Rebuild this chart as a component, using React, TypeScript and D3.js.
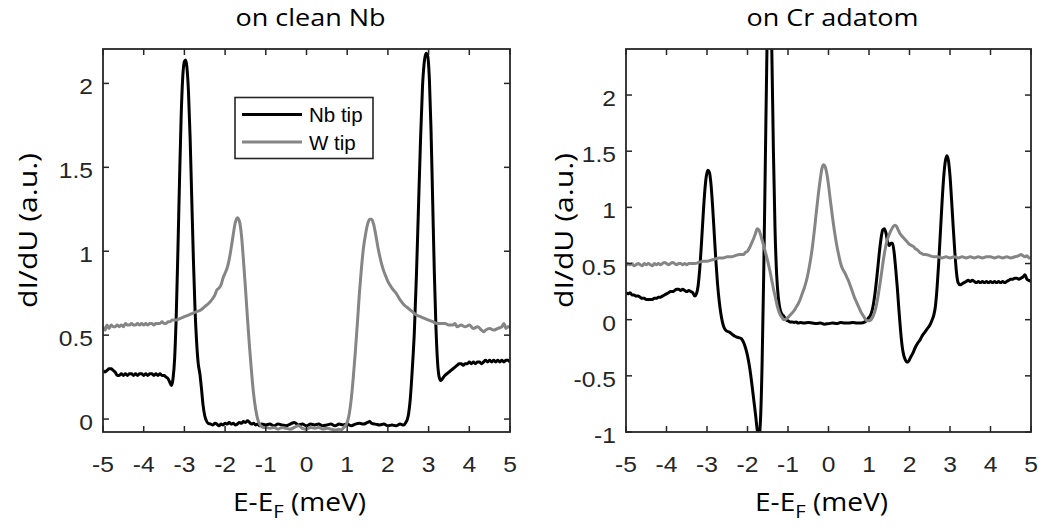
import React from "react";
import * as d3 from "d3";

// ---------------- DATA ----------------
const xTicks = [-5, -4, -3, -2, -1, 0, 1, 2, 3, 4, 5];
const leftYTicks = [0, 0.5, 1, 1.5, 2];
const rightYTicks = [-1, -0.5, 0, 0.5, 1, 1.5, 2];
const titles = ["on clean Nb", "on Cr adatom"];
const legendLabels = ["Nb tip", "W tip"];

// Left panel: Nb tip on clean Nb
const cleanNbTip: [number, number][] = [
  [-5, 0.29], [-4.95, 0.28], [-4.9, 0.29], [-4.85, 0.3], [-4.8, 0.3], [-4.75, 0.29], [-4.7, 0.28], [-4.65, 0.26],
  [-4.6, 0.26], [-4.55, 0.27], [-4.5, 0.26], [-4.45, 0.27], [-4.4, 0.26], [-4.35, 0.27], [-4.3, 0.27], [-4.25, 0.26],
  [-4.2, 0.27], [-4.15, 0.26], [-4.1, 0.27], [-4.05, 0.27], [-4.0, 0.26], [-3.95, 0.27], [-3.9, 0.26], [-3.85, 0.27],
  [-3.8, 0.27], [-3.75, 0.26], [-3.7, 0.27], [-3.65, 0.26], [-3.6, 0.27], [-3.55, 0.26], [-3.5, 0.26], [-3.45, 0.25],
  [-3.4, 0.24], [-3.36, 0.22], [-3.32, 0.2], [-3.28, 0.24], [-3.24, 0.36], [-3.2, 0.62], [-3.16, 1.0], [-3.12, 1.42],
  [-3.08, 1.8], [-3.04, 2.04], [-3.0, 2.13], [-2.97, 2.14], [-2.94, 2.1], [-2.9, 1.95], [-2.86, 1.68], [-2.82, 1.32],
  [-2.78, 0.96], [-2.74, 0.66], [-2.7, 0.46], [-2.66, 0.33], [-2.62, 0.27], [-2.58, 0.18], [-2.54, 0.08], [-2.5, 0.02],
  [-2.46, -0.01], [-2.42, -0.025], [-2.35, -0.03], [-2.3, -0.035], [-2.25, -0.025], [-2.2, -0.03], [-2.15, -0.04],
  [-2.1, -0.03], [-2.05, -0.035], [-2.0, -0.025], [-1.95, -0.03], [-1.9, -0.02], [-1.85, -0.03], [-1.8, -0.025],
  [-1.75, -0.035], [-1.7, -0.03], [-1.65, -0.02], [-1.6, -0.025], [-1.55, -0.015], [-1.5, -0.02], [-1.45, -0.01],
  [-1.4, -0.02], [-1.35, -0.03], [-1.3, -0.025], [-1.25, -0.035], [-1.2, -0.03], [-1.15, -0.04], [-1.1, -0.03],
  [-1.0, -0.035], [-0.9, -0.03], [-0.8, -0.04], [-0.7, -0.03], [-0.6, -0.035], [-0.5, -0.04], [-0.4, -0.03],
  [-0.3, -0.02], [-0.2, -0.035], [-0.1, -0.03], [0.0, -0.04], [0.1, -0.03], [0.2, -0.035], [0.3, -0.03],
  [0.4, -0.04], [0.5, -0.035], [0.6, -0.03], [0.7, -0.04], [0.8, -0.03], [0.9, -0.035], [1.0, -0.03], [1.1, -0.04],
  [1.2, -0.03], [1.3, -0.025], [1.4, -0.03], [1.5, -0.02], [1.55, -0.015], [1.6, -0.025], [1.7, -0.03],
  [1.8, -0.035], [1.9, -0.03], [2.0, -0.04], [2.1, -0.035], [2.2, -0.04], [2.3, -0.03], [2.38, -0.035],
  [2.44, -0.02], [2.5, 0.02], [2.55, 0.12], [2.6, 0.3], [2.65, 0.52], [2.7, 0.85], [2.75, 1.25], [2.8, 1.65],
  [2.85, 1.98], [2.9, 2.14], [2.94, 2.18], [2.98, 2.16], [3.02, 2.02], [3.06, 1.72], [3.1, 1.3], [3.14, 0.88],
  [3.18, 0.55], [3.22, 0.34], [3.26, 0.25], [3.3, 0.23], [3.34, 0.24], [3.4, 0.26], [3.45, 0.27], [3.5, 0.28],
  [3.55, 0.29], [3.6, 0.3], [3.65, 0.31], [3.7, 0.32], [3.75, 0.33], [3.8, 0.33], [3.85, 0.32], [3.9, 0.33],
  [3.95, 0.33], [4.0, 0.34], [4.05, 0.33], [4.1, 0.34], [4.15, 0.33], [4.2, 0.34], [4.25, 0.34], [4.3, 0.33],
  [4.35, 0.34], [4.4, 0.35], [4.45, 0.34], [4.5, 0.35], [4.55, 0.34], [4.6, 0.35], [4.65, 0.34], [4.7, 0.35],
  [4.75, 0.34], [4.8, 0.35], [4.85, 0.34], [4.9, 0.35], [4.95, 0.35], [5.0, 0.34],
];

// Left panel: W tip on clean Nb
const cleanWTip: [number, number][] = [
  [-5, 0.55], [-4.95, 0.53], [-4.9, 0.56], [-4.85, 0.54], [-4.8, 0.56], [-4.75, 0.55], [-4.7, 0.55], [-4.65, 0.56],
  [-4.6, 0.55], [-4.55, 0.56], [-4.5, 0.55], [-4.45, 0.57], [-4.4, 0.56], [-4.35, 0.56], [-4.3, 0.57], [-4.25, 0.56],
  [-4.2, 0.56], [-4.15, 0.57], [-4.1, 0.56], [-4.05, 0.57], [-4.0, 0.56], [-3.95, 0.57], [-3.9, 0.56], [-3.85, 0.57],
  [-3.8, 0.57], [-3.75, 0.56], [-3.7, 0.57], [-3.65, 0.57], [-3.6, 0.57], [-3.55, 0.58], [-3.5, 0.57], [-3.45, 0.57],
  [-3.4, 0.58], [-3.35, 0.58], [-3.3, 0.59], [-3.2, 0.59], [-3.1, 0.6], [-3.0, 0.61], [-2.9, 0.62], [-2.8, 0.63],
  [-2.7, 0.64], [-2.6, 0.65], [-2.5, 0.67], [-2.4, 0.69], [-2.3, 0.72], [-2.25, 0.74], [-2.2, 0.77], [-2.15, 0.78],
  [-2.1, 0.8], [-2.05, 0.84], [-2.0, 0.87], [-1.95, 0.9], [-1.9, 0.95], [-1.85, 1.02], [-1.8, 1.1], [-1.75, 1.17],
  [-1.7, 1.2], [-1.65, 1.18], [-1.6, 1.1], [-1.55, 0.95], [-1.5, 0.78], [-1.45, 0.6], [-1.4, 0.43], [-1.35, 0.28],
  [-1.3, 0.15], [-1.25, 0.06], [-1.2, 0.0], [-1.15, -0.03], [-1.1, -0.045], [-1.05, -0.05], [-1.0, -0.05],
  [-0.9, -0.055], [-0.8, -0.05], [-0.7, -0.06], [-0.6, -0.05], [-0.5, -0.055], [-0.4, -0.06], [-0.3, -0.05],
  [-0.2, -0.04], [-0.1, -0.055], [0.0, -0.06], [0.1, -0.05], [0.2, -0.055], [0.3, -0.05], [0.4, -0.06],
  [0.5, -0.055], [0.6, -0.06], [0.7, -0.065], [0.8, -0.06], [0.85, -0.065], [0.9, -0.055], [0.95, -0.04],
  [1.0, -0.02], [1.05, 0.03], [1.1, 0.12], [1.15, 0.25], [1.2, 0.4], [1.25, 0.57], [1.3, 0.75], [1.35, 0.9],
  [1.4, 1.02], [1.45, 1.1], [1.5, 1.16], [1.55, 1.19], [1.6, 1.19], [1.65, 1.16], [1.7, 1.1], [1.75, 1.03],
  [1.8, 0.97], [1.85, 0.92], [1.9, 0.88], [1.95, 0.85], [2.0, 0.82], [2.1, 0.78], [2.2, 0.75], [2.3, 0.71],
  [2.4, 0.68], [2.5, 0.66], [2.6, 0.64], [2.7, 0.62], [2.8, 0.61], [2.9, 0.6], [3.0, 0.59], [3.1, 0.58],
  [3.2, 0.57], [3.3, 0.57], [3.4, 0.57], [3.5, 0.56], [3.6, 0.56], [3.65, 0.57], [3.7, 0.55], [3.8, 0.56],
  [3.9, 0.55], [4.0, 0.56], [4.1, 0.54], [4.2, 0.55], [4.3, 0.53], [4.35, 0.52], [4.4, 0.53], [4.5, 0.54],
  [4.6, 0.53], [4.7, 0.54], [4.8, 0.55], [4.85, 0.57], [4.9, 0.54], [4.95, 0.55], [5.0, 0.55],
];

// Right panel: Nb tip on Cr adatom
const crNbTip: [number, number][] = [
  [-5, 0.24], [-4.95, 0.23], [-4.9, 0.24], [-4.85, 0.22], [-4.8, 0.22], [-4.75, 0.21], [-4.7, 0.21], [-4.65, 0.2],
  [-4.6, 0.19], [-4.55, 0.19], [-4.5, 0.18], [-4.45, 0.18], [-4.4, 0.18], [-4.35, 0.18], [-4.3, 0.19], [-4.25, 0.19],
  [-4.2, 0.2], [-4.15, 0.2], [-4.1, 0.21], [-4.05, 0.22], [-4.0, 0.23], [-3.95, 0.24], [-3.9, 0.25], [-3.85, 0.25],
  [-3.8, 0.26], [-3.75, 0.27], [-3.7, 0.27], [-3.65, 0.26], [-3.6, 0.27], [-3.55, 0.26], [-3.5, 0.25], [-3.45, 0.26],
  [-3.4, 0.25], [-3.35, 0.24], [-3.3, 0.21], [-3.26, 0.23], [-3.22, 0.3], [-3.18, 0.45], [-3.14, 0.66], [-3.1, 0.9],
  [-3.06, 1.12], [-3.02, 1.27], [-2.98, 1.33], [-2.94, 1.31], [-2.9, 1.2], [-2.86, 1.0], [-2.82, 0.76], [-2.78, 0.52],
  [-2.74, 0.32], [-2.7, 0.17], [-2.66, 0.06], [-2.62, -0.02], [-2.58, -0.07], [-2.52, -0.1], [-2.45, -0.11],
  [-2.38, -0.13], [-2.3, -0.15], [-2.22, -0.16], [-2.15, -0.17], [-2.1, -0.2], [-2.05, -0.25], [-2.0, -0.32],
  [-1.95, -0.42], [-1.9, -0.55], [-1.85, -0.7], [-1.8, -0.85], [-1.76, -0.98], [-1.72, -1.05], [-1.68, -0.9],
  [-1.64, -0.4], [-1.6, 0.4], [-1.56, 1.4], [-1.52, 2.4], [-1.48, 3.0], [-1.44, 3.0], [-1.4, 2.4], [-1.36, 1.5],
  [-1.32, 0.8], [-1.28, 0.4], [-1.24, 0.2], [-1.2, 0.1], [-1.15, 0.05], [-1.1, 0.03], [-1.05, 0.0], [-1.0, -0.01],
  [-0.95, -0.02], [-0.9, -0.02], [-0.85, -0.025], [-0.8, -0.02], [-0.75, -0.03], [-0.7, -0.025], [-0.6, -0.03],
  [-0.5, -0.025], [-0.4, -0.03], [-0.3, -0.035], [-0.2, -0.03], [-0.1, -0.04], [0.0, -0.035], [0.1, -0.03],
  [0.2, -0.035], [0.3, -0.025], [0.4, -0.03], [0.5, -0.03], [0.6, -0.025], [0.7, -0.03], [0.8, -0.03],
  [0.9, -0.02], [0.95, 0.0], [1.0, 0.02], [1.05, 0.05], [1.1, 0.12], [1.15, 0.24], [1.2, 0.4], [1.25, 0.58],
  [1.3, 0.73], [1.34, 0.8], [1.38, 0.81], [1.42, 0.77], [1.46, 0.69], [1.5, 0.66], [1.54, 0.68], [1.58, 0.68],
  [1.62, 0.6], [1.66, 0.45], [1.7, 0.28], [1.74, 0.08], [1.78, -0.1], [1.82, -0.24], [1.86, -0.32], [1.9, -0.36],
  [1.94, -0.38], [1.98, -0.37], [2.02, -0.34], [2.08, -0.3], [2.14, -0.25], [2.2, -0.21], [2.26, -0.18],
  [2.32, -0.14], [2.38, -0.11], [2.44, -0.08], [2.5, -0.05], [2.56, 0.0], [2.6, 0.04], [2.64, 0.12], [2.68, 0.28],
  [2.72, 0.5], [2.76, 0.76], [2.8, 1.02], [2.84, 1.25], [2.88, 1.4], [2.92, 1.46], [2.96, 1.42], [3.0, 1.28],
  [3.04, 1.06], [3.08, 0.82], [3.12, 0.6], [3.16, 0.42], [3.2, 0.33], [3.25, 0.31], [3.3, 0.32], [3.35, 0.33],
  [3.4, 0.34], [3.45, 0.35], [3.5, 0.34], [3.55, 0.35], [3.6, 0.34], [3.65, 0.33], [3.7, 0.34], [3.75, 0.33],
  [3.8, 0.34], [3.85, 0.33], [3.9, 0.34], [3.95, 0.33], [4.0, 0.34], [4.05, 0.33], [4.1, 0.34], [4.15, 0.33],
  [4.2, 0.34], [4.25, 0.33], [4.3, 0.34], [4.35, 0.33], [4.4, 0.34], [4.45, 0.35], [4.5, 0.36], [4.55, 0.36],
  [4.6, 0.37], [4.65, 0.37], [4.7, 0.36], [4.75, 0.37], [4.8, 0.38], [4.85, 0.4], [4.9, 0.36], [4.95, 0.35],
  [5.0, 0.34],
];

// Right panel: W tip on Cr adatom
const crWTip: [number, number][] = [
  [-5, 0.48], [-4.95, 0.5], [-4.9, 0.49], [-4.85, 0.5], [-4.8, 0.48], [-4.75, 0.49], [-4.7, 0.5], [-4.65, 0.49],
  [-4.6, 0.48], [-4.55, 0.5], [-4.5, 0.49], [-4.45, 0.5], [-4.4, 0.49], [-4.35, 0.48], [-4.3, 0.5], [-4.25, 0.49],
  [-4.2, 0.5], [-4.15, 0.49], [-4.1, 0.5], [-4.05, 0.51], [-4.0, 0.5], [-3.95, 0.49], [-3.9, 0.5], [-3.85, 0.51],
  [-3.8, 0.5], [-3.75, 0.49], [-3.7, 0.5], [-3.65, 0.5], [-3.6, 0.49], [-3.55, 0.5], [-3.5, 0.49], [-3.45, 0.5],
  [-3.4, 0.5], [-3.3, 0.5], [-3.2, 0.51], [-3.1, 0.52], [-3.0, 0.52], [-2.9, 0.53], [-2.8, 0.54], [-2.7, 0.55],
  [-2.6, 0.55], [-2.5, 0.56], [-2.4, 0.56], [-2.3, 0.57], [-2.2, 0.58], [-2.1, 0.58], [-2.05, 0.6], [-2.0, 0.61],
  [-1.95, 0.64], [-1.9, 0.68], [-1.85, 0.72], [-1.8, 0.77], [-1.76, 0.81], [-1.72, 0.8], [-1.68, 0.76],
  [-1.64, 0.71], [-1.6, 0.66], [-1.55, 0.59], [-1.5, 0.52], [-1.45, 0.44], [-1.4, 0.35], [-1.35, 0.26],
  [-1.3, 0.18], [-1.25, 0.1], [-1.2, 0.05], [-1.15, 0.02], [-1.1, 0.0], [-1.05, 0.005], [-1.0, 0.02],
  [-0.95, 0.04], [-0.9, 0.06], [-0.85, 0.08], [-0.8, 0.11], [-0.75, 0.14], [-0.7, 0.18], [-0.65, 0.23],
  [-0.6, 0.28], [-0.55, 0.34], [-0.5, 0.42], [-0.45, 0.52], [-0.4, 0.64], [-0.35, 0.79], [-0.3, 0.96],
  [-0.25, 1.12], [-0.2, 1.26], [-0.16, 1.35], [-0.12, 1.38], [-0.08, 1.36], [-0.04, 1.3], [0.0, 1.2],
  [0.05, 1.05], [0.1, 0.91], [0.15, 0.78], [0.2, 0.67], [0.25, 0.58], [0.3, 0.5], [0.35, 0.45], [0.4, 0.42],
  [0.45, 0.38], [0.5, 0.34], [0.55, 0.29], [0.6, 0.24], [0.65, 0.19], [0.7, 0.15], [0.75, 0.11], [0.8, 0.07],
  [0.85, 0.04], [0.9, 0.01], [0.95, -0.01], [1.0, -0.01], [1.05, 0.0], [1.1, 0.03], [1.15, 0.08], [1.2, 0.16],
  [1.25, 0.27], [1.3, 0.39], [1.35, 0.52], [1.4, 0.63], [1.45, 0.71], [1.5, 0.76], [1.55, 0.8], [1.6, 0.83],
  [1.64, 0.84], [1.68, 0.83], [1.72, 0.8], [1.76, 0.77], [1.8, 0.75], [1.85, 0.73], [1.9, 0.71], [1.95, 0.69],
  [2.0, 0.67], [2.05, 0.66], [2.1, 0.65], [2.15, 0.63], [2.2, 0.62], [2.25, 0.6], [2.3, 0.59], [2.35, 0.58],
  [2.4, 0.58], [2.5, 0.57], [2.6, 0.56], [2.7, 0.56], [2.8, 0.55], [2.9, 0.56], [3.0, 0.55], [3.1, 0.56],
  [3.2, 0.55], [3.3, 0.56], [3.4, 0.55], [3.5, 0.56], [3.6, 0.55], [3.7, 0.56], [3.8, 0.55], [3.9, 0.56],
  [4.0, 0.56], [4.1, 0.55], [4.2, 0.56], [4.3, 0.55], [4.4, 0.56], [4.5, 0.55], [4.6, 0.56], [4.7, 0.57],
  [4.75, 0.58], [4.8, 0.57], [4.85, 0.56], [4.9, 0.57], [4.95, 0.55], [5.0, 0.55],
];

// ---------------- COMPONENT ----------------
const FRAME = "#262626";
const BLACK = "#000000";
const GREY = "#858585";
const TICK_FONT = "'Liberation Sans', Arial, sans-serif";
const LABEL_FONT = "'Open Sans', 'Noto Sans', sans-serif";
const TICK_SX = 1.12;

type PanelProps = {
  id: string;
  left: number;
  right: number;
  top: number;
  bottom: number;
  yDomain: [number, number];
  yTicks: number[];
  title: string;
  titleLen: number;
  black: [number, number][];
  grey: [number, number][];
  yLabelX: number;
  legend?: boolean;
};

function Panel(p: PanelProps) {
  const x = d3.scaleLinear().domain([-5, 5]).range([p.left, p.right]);
  const y = d3.scaleLinear().domain(p.yDomain).range([p.bottom, p.top]);
  const line = d3
    .line<[number, number]>()
    .x((d) => x(d[0]))
    .y((d) => y(d[1]))
    .curve(d3.curveMonotoneX);
  const tl = 6;
  const cx = (p.left + p.right) / 2;
  const cy = (p.top + p.bottom) / 2;
  return (
    <g>
      <defs>
        <clipPath id={p.id}>
          <rect x={p.left} y={p.top} width={p.right - p.left} height={p.bottom - p.top} />
        </clipPath>
      </defs>
      <g clipPath={`url(#${p.id})`}>
        <path d={line(p.black) || ""} fill="none" stroke={BLACK} strokeWidth={3} strokeLinejoin="round" />
        <path d={line(p.grey) || ""} fill="none" stroke={GREY} strokeWidth={3} strokeLinejoin="round" />
      </g>
      {/* ticks */}
      {xTicks.map((t) => (
        <g key={"xt" + t}>
          <line x1={x(t)} x2={x(t)} y1={p.bottom} y2={p.bottom - tl} stroke={FRAME} strokeWidth={1.5} />
          <line x1={x(t)} x2={x(t)} y1={p.top} y2={p.top + tl} stroke={FRAME} strokeWidth={1.5} />
          <text
            transform={`translate(${x(t)},472) scale(${TICK_SX},1)`}
            textAnchor="middle"
            fontFamily={TICK_FONT}
            fontSize={22}
            fill={FRAME}
          >
            {t}
          </text>
        </g>
      ))}
      {p.yTicks.map((t) => (
        <g key={"yt" + t}>
          <line x1={p.left} x2={p.left + tl} y1={y(t)} y2={y(t)} stroke={FRAME} strokeWidth={1.5} />
          <line x1={p.right} x2={p.right - tl} y1={y(t)} y2={y(t)} stroke={FRAME} strokeWidth={1.5} />
          <text
            transform={`translate(${p.left - 10},${y(t) + 11}) scale(${TICK_SX},1)`}
            textAnchor="end"
            fontFamily={TICK_FONT}
            fontSize={22}
            fill={FRAME}
          >
            {t}
          </text>
        </g>
      ))}
      <rect
        x={p.left}
        y={p.top}
        width={p.right - p.left}
        height={p.bottom - p.top}
        fill="none"
        stroke={FRAME}
        strokeWidth={1.8}
      />
      {/* title */}
      <text
        x={cx + 4}
        y={26}
        textAnchor="middle"
        fontFamily={LABEL_FONT}
        fontSize={23}
        fill="#000"
        textLength={p.titleLen}
        lengthAdjust="spacingAndGlyphs"
      >
        {p.title}
      </text>
      {/* x label */}
      <text
        x={cx - 7}
        y={511}
        textAnchor="middle"
        fontFamily={LABEL_FONT}
        fontSize={25}
        fill="#000"
        textLength={133}
        lengthAdjust="spacingAndGlyphs"
      >
        E-E
        <tspan fontSize={18} dy={7}>F</tspan>
        <tspan dy={-7}> (meV)</tspan>
      </text>
      {/* y label */}
      <text
        transform={`translate(${p.yLabelX},${cy - 10}) rotate(-90)`}
        textAnchor="middle"
        fontFamily={LABEL_FONT}
        fontSize={25}
        fill="#000"
        textLength={155}
        lengthAdjust="spacingAndGlyphs"
      >
        dI/dU (a.u.)
      </text>
      {p.legend && (
        <g>
          <rect x={235} y={97.5} width={138} height={61} fill="#fff" stroke={FRAME} strokeWidth={1.6} />
          <line x1={242} x2={302} y1={114.5} y2={114.5} stroke={BLACK} strokeWidth={3} />
          <line x1={242} x2={302} y1={142} y2={142} stroke={GREY} strokeWidth={3} />
          <text x={309} y={122} fontFamily={TICK_FONT} fontSize={20.5} fill="#000">
            {legendLabels[0]}
          </text>
          <text x={309} y={150} fontFamily={TICK_FONT} fontSize={20.5} fill="#000">
            {legendLabels[1]}
          </text>
        </g>
      )}
    </g>
  );
}

export default function App() {
  return (
    <svg
      width={1044}
      height={527}
      viewBox="0 0 1044 527"
      style={{ position: "absolute", left: 0, top: 0, background: "#fff" }}
    >
      <rect x={0} y={0} width={1044} height={527} fill="#fff" />
      <Panel
        id="clipL"
        left={103}
        right={510}
        top={49}
        bottom={432}
        yDomain={[-0.077, 2.205]}
        yTicks={leftYTicks}
        title={titles[0]}
        titleLen={150}
        black={cleanNbTip}
        grey={cleanWTip}
        yLabelX={37}
        legend
      />
      <Panel
        id="clipR"
        left={626}
        right={1031}
        top={49}
        bottom={432}
        yDomain={[-1, 2.41]}
        yTicks={rightYTicks}
        title={titles[1]}
        titleLen={172}
        black={crNbTip}
        grey={crWTip}
        yLabelX={573}
      />
    </svg>
  );
}
